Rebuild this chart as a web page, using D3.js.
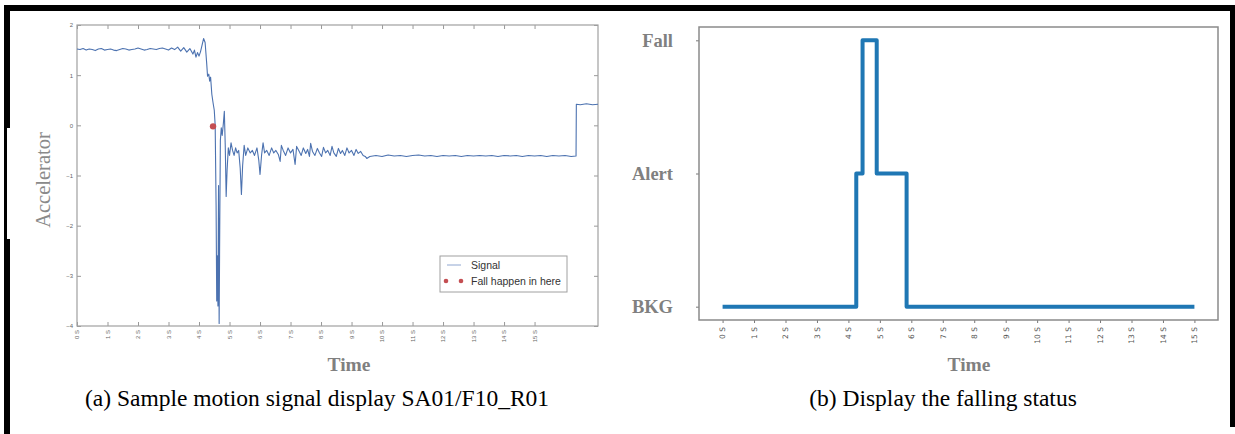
<!DOCTYPE html>
<meta charset="utf-8">
<title>Fall detection figure</title>
<style>
body { margin: 0; background: #fff; }
.tickA text { font-family: "Liberation Sans", Arial, sans-serif; font-size: 6px; fill: #666; }
.tickB text { font-family: "DejaVu Sans", sans-serif; font-size: 7.5px; fill: #555; }
.tickA line { stroke: #999; }
.tickB line { stroke: #777; }
.status text { font-family: "Liberation Serif", "Times New Roman", serif; font-weight: bold; font-size: 18.5px; fill: #808080; }
.axtitle { font-family: "Liberation Serif", "Times New Roman", serif; font-weight: bold; font-size: 19.5px; fill: #808080; }
.caption { font-family: "Liberation Serif", "Times New Roman", serif; font-size: 23.5px; fill: #000; }
.legend text { font-family: "Liberation Sans", Arial, sans-serif; font-size: 10.5px; fill: #333; }
</style>

<svg width="1235" height="434"></svg>
<script src="https://d3js.org/d3.v7.min.js"></script>
<script>

// ---- data ----

// time ticks shared by both panels
var secTicks  = [0, 1, 2, 3, 4, 5, 6, 7, 8, 9, 10, 11, 12, 13, 14, 15];
var secLabels = ["0 S", "1 S", "2 S", "3 S", "4 S", "5 S", "6 S", "7 S",
                 "8 S", "9 S", "10 S", "11 S", "12 S", "13 S", "14 S", "15 S"];

// panel (a): accelerometer signal, [time s, value]
var accelTicks  = [2, 1, 0, -1, -2, -3, -4];
var accelLabels = ["2", "1", "0", "\u22121", "\u22122", "\u22123", "\u22124"];

var signal = [
  [0.0, 1.52], [0.1, 1.51], [0.2, 1.53], [0.3, 1.50], [0.4, 1.52], [0.5, 1.51],
  [0.6, 1.49], [0.7, 1.52], [0.8, 1.53], [0.9, 1.50], [1.0, 1.51], [1.1, 1.52],
  [1.2, 1.50], [1.3, 1.49], [1.4, 1.51], [1.5, 1.53], [1.6, 1.52], [1.7, 1.50],
  [1.8, 1.51], [1.9, 1.52], [2.0, 1.54], [2.1, 1.52], [2.2, 1.50], [2.3, 1.51],
  [2.4, 1.53], [2.5, 1.52], [2.6, 1.51], [2.7, 1.53], [2.8, 1.54], [2.9, 1.52],
  [3.0, 1.50], [3.1, 1.54], [3.2, 1.51], [3.3, 1.56], [3.4, 1.48], [3.5, 1.55],
  [3.6, 1.46], [3.7, 1.53], [3.8, 1.42], [3.85, 1.50], [3.9, 1.36], [3.95, 1.45],
  [4.0, 1.38], [4.05, 1.47], [4.1, 1.60], [4.15, 1.73], [4.2, 1.65], [4.25, 1.25],
  [4.28, 0.98], [4.32, 1.02], [4.35, 0.88], [4.38, 0.96], [4.42, 0.62], [4.46, 0.45],
  [4.5, 0.30], [4.53, 0.0], [4.56, -1.6], [4.58, -3.5], [4.60, -2.6], [4.62, -3.6],
  [4.64, -1.2], [4.66, -3.95], [4.68, -2.0], [4.70, -0.3], [4.73, -0.05], [4.76, -0.2],
  [4.80, 0.05], [4.83, 0.28], [4.86, -0.4], [4.89, -1.42], [4.92, -0.9], [4.96, -0.45],
  [5.0, -0.6], [5.05, -0.35], [5.1, -0.5], [5.15, -0.6], [5.2, -0.45], [5.25, -0.55],
  [5.3, -0.5], [5.35, -0.85], [5.39, -1.38], [5.43, -0.8], [5.48, -0.4], [5.53, -0.6],
  [5.6, -0.45], [5.68, -0.55], [5.75, -0.5], [5.82, -0.6], [5.9, -0.45], [5.96, -0.7],
  [6.0, -0.98], [6.05, -0.6], [6.1, -0.35], [6.15, -0.55], [6.22, -0.5], [6.3, -0.6],
  [6.38, -0.45], [6.45, -0.55], [6.52, -0.5], [6.6, -0.58], [6.66, -0.72], [6.7, -0.4],
  [6.76, -0.5], [6.84, -0.6], [6.92, -0.45], [7.0, -0.55], [7.08, -0.48], [7.15, -0.78],
  [7.2, -0.42], [7.27, -0.5], [7.35, -0.6], [7.42, -0.45], [7.5, -0.56], [7.56, -0.48],
  [7.62, -0.62], [7.66, -0.36], [7.72, -0.52], [7.8, -0.6], [7.88, -0.46], [7.95, -0.55],
  [8.02, -0.62], [8.08, -0.44], [8.15, -0.55], [8.22, -0.5], [8.3, -0.6], [8.36, -0.42],
  [8.42, -0.55], [8.5, -0.62], [8.57, -0.46], [8.64, -0.56], [8.7, -0.5], [8.78, -0.6],
  [8.85, -0.45], [8.92, -0.55], [9.0, -0.5], [9.08, -0.6], [9.15, -0.48], [9.22, -0.56],
  [9.3, -0.52], [9.38, -0.6], [9.45, -0.62], [9.5, -0.66], [9.6, -0.62], [9.8, -0.60],
  [10.0, -0.62], [10.2, -0.59], [10.4, -0.61], [10.6, -0.60], [10.8, -0.62], [11.0, -0.60],
  [11.2, -0.59], [11.4, -0.61], [11.6, -0.60], [11.8, -0.62], [12.0, -0.60], [12.2, -0.61],
  [12.4, -0.60], [12.6, -0.62], [12.8, -0.60], [13.0, -0.61], [13.2, -0.60], [13.4, -0.61],
  [13.6, -0.60], [13.8, -0.62], [14.0, -0.60], [14.2, -0.61], [14.4, -0.60], [14.6, -0.62],
  [14.8, -0.60], [15.0, -0.61], [15.2, -0.60], [15.4, -0.62], [15.6, -0.60], [15.8, -0.61],
  [16.0, -0.60], [16.2, -0.62], [16.36, -0.61], [16.37, 0.42], [16.5, 0.41], [16.7, 0.43],
  [16.9, 0.41], [17.08, 0.42]
];
var fallPoint = [4.46, -0.02];

// panel (b): detected status, [time s, level]
// (not called "status": that name is taken by window.status)
var statusLabels = ["BKG", "Alert", "Fall"];
var statusTicks  = [0, 1, 2];
var statusSteps = [
  [0, 0], [4.25, 0], [4.25, 1], [4.45, 1], [4.45, 2], [4.9, 2],
  [4.9, 1], [5.85, 1], [5.85, 0], [15, 0]
];

// ---- drawing ----

var svg = d3.select("svg");

svg.append("rect").attr("width", 1235).attr("height", 434).attr("fill", "#fff");

// black frame around the figure (left side has a thinner stretch)
svg.append("rect").attr("x", 4).attr("y", 5).attr("width", 1231).attr("height", 6).attr("fill", "#000");
svg.append("rect").attr("x", 1230).attr("y", 5).attr("width", 5).attr("height", 422).attr("fill", "#000");
svg.append("rect").attr("x", 4).attr("y", 5).attr("width", 6).attr("height", 123).attr("fill", "#000");
svg.append("rect").attr("x", 4).attr("y", 128).attr("width", 3).attr("height", 111).attr("fill", "#000");
svg.append("rect").attr("x", 4).attr("y", 239).attr("width", 6).attr("height", 195).attr("fill", "#000");

// ===== panel (a) =====
var xA = d3.scaleLinear().domain([0, 17.08]).range([77, 598]);
var yA = d3.scaleLinear().domain([-4, 2]).range([326, 25]);

function inward(g) { g.select(".domain").remove(); }

svg.append("g").attr("class", "tickA").attr("transform", "translate(0,326)")
    .call(d3.axisBottom(xA).tickValues(secTicks).tickFormat(function(d, i) { return secLabels[i]; })
      .tickSizeInner(-4).tickSizeOuter(0))
    .call(inward)
  .selectAll("text")
    .attr("transform", "rotate(-90)")
    .attr("text-anchor", "end")
    .attr("x", -4).attr("y", 0).attr("dy", "0.32em");

svg.append("g").attr("class", "tickA").attr("transform", "translate(0,25)")
    .call(d3.axisTop(xA).tickValues(secTicks).tickFormat("").tickSizeInner(-4).tickSizeOuter(0))
    .call(inward);

svg.append("g").attr("class", "tickA").attr("transform", "translate(77,0)")
    .call(d3.axisLeft(yA).tickValues(accelTicks).tickFormat(function(d, i) { return accelLabels[i]; })
      .tickSizeInner(-4).tickSizeOuter(0).tickPadding(4))
    .call(inward);

svg.append("g").attr("class", "tickA").attr("transform", "translate(598,0)")
    .call(d3.axisRight(yA).tickValues(accelTicks).tickFormat("").tickSizeInner(-4).tickSizeOuter(0))
    .call(inward);

svg.append("rect")
    .attr("x", xA(0)).attr("y", yA(2))
    .attr("width", xA(17.08) - xA(0)).attr("height", yA(-4) - yA(2))
    .attr("fill", "none").attr("stroke", "#a0a0a0").attr("stroke-width", 1.2);

svg.append("path")
    .datum(signal)
    .attr("fill", "none")
    .attr("stroke", "#4c72b0")
    .attr("stroke-width", 1.1)
    .attr("stroke-linejoin", "round")
    .attr("d", d3.line().x(function(d) { return xA(d[0]); }).y(function(d) { return yA(d[1]); }));

svg.append("circle")
    .attr("cx", xA(fallPoint[0])).attr("cy", yA(fallPoint[1]))
    .attr("r", 3.2).attr("fill", "#c44e52");

// legend
var leg = svg.append("g").attr("class", "legend");
leg.append("rect").attr("x", 440).attr("y", 256).attr("width", 127).attr("height", 36)
    .attr("fill", "#fff").attr("stroke", "#a0a0a0").attr("stroke-width", 1);
leg.append("line").attr("x1", 447).attr("x2", 461).attr("y1", 265).attr("y2", 265)
    .attr("stroke", "#8fa6d0").attr("stroke-width", 1);
leg.append("text").attr("x", 471).attr("y", 269).text("Signal");
leg.selectAll("circle").data([446, 461]).enter().append("circle")
    .attr("cx", function(d) { return d; }).attr("cy", 281).attr("r", 2.3).attr("fill", "#c44e52");
leg.append("text").attr("x", 471).attr("y", 285).text("Fall happen in here");

svg.append("text").attr("class", "axtitle")
    .attr("transform", "translate(50,180) rotate(-90)")
    .attr("text-anchor", "middle")
    .style("font-weight", "normal").style("fill", "#8a8a8a").style("font-size", "20.5px")
    .text("Accelerator");

svg.append("text").attr("class", "axtitle").attr("x", 349).attr("y", 371)
    .attr("text-anchor", "middle").text("Time");

svg.append("text").attr("class", "caption").attr("x", 317).attr("y", 406)
    .attr("text-anchor", "middle").text("(a) Sample motion signal display SA01/F10_R01");

// ===== panel (b) =====
var xB = d3.scaleLinear().domain([-0.75, 15.75]).range([699, 1218]);
var yB = d3.scaleLinear().domain([-0.1, 2.1]).range([320, 27]);

svg.append("g").attr("class", "tickB").attr("transform", "translate(0,320)")
    .call(d3.axisBottom(xB).tickValues(secTicks).tickFormat(function(d, i) { return secLabels[i]; })
      .tickSizeInner(3).tickSizeOuter(0))
    .call(inward)
  .selectAll("text")
    .attr("transform", "rotate(-90)")
    .attr("text-anchor", "end")
    .attr("x", -7).attr("y", 0).attr("dy", "0.32em");

svg.append("g").attr("class", "tickB status").attr("transform", "translate(699,0)")
    .call(d3.axisLeft(yB).tickValues(statusTicks).tickFormat(function(d, i) { return statusLabels[i]; })
      .tickSizeInner(3).tickSizeOuter(0).tickPadding(23))
    .call(inward);

svg.append("rect")
    .attr("x", xB(-0.75)).attr("y", yB(2.1))
    .attr("width", xB(15.75) - xB(-0.75)).attr("height", yB(-0.1) - yB(2.1))
    .attr("fill", "none").attr("stroke", "#8a8a8a").attr("stroke-width", 1.5);

svg.append("path")
    .datum(statusSteps)
    .attr("fill", "none")
    .attr("stroke", "#1f77b4")
    .attr("stroke-width", 4)
    .attr("stroke-linejoin", "round")
    .attr("d", d3.line().x(function(d) { return xB(d[0]); }).y(function(d) { return yB(d[1]); }));

svg.append("text").attr("class", "axtitle").attr("x", 969).attr("y", 371)
    .attr("text-anchor", "middle").text("Time");

svg.append("text").attr("class", "caption").attr("x", 943).attr("y", 406)
    .attr("text-anchor", "middle").text("(b) Display the falling status");

</script>
